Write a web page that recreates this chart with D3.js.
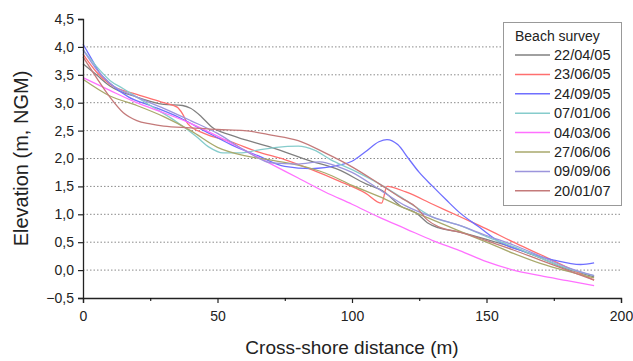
<!DOCTYPE html>
<html><head><meta charset="utf-8">
<script src="https://cdn.jsdelivr.net/npm/d3@7"></script>
<style>
body{margin:0;background:#fff;}
text{font-family:"Liberation Sans",Arial,sans-serif;fill:#222;}
</style></head>
<body><svg id="c" width="633" height="361"></svg>
<script>
const surveys = ["22/04/05","23/06/05","24/09/05","07/01/06","04/03/06","27/06/06","09/09/06","20/01/07"];
const colors = ["#808080","#ff6f6f","#6f6fff","#86cccc","#ff70ff","#a9a96c","#9c95dc","#c47a7a"];
const yTicks = [-0.5,0,0.5,1,1.5,2,2.5,3,3.5,4,4.5];
const xTicks = [0,50,100,150,200];
const xMinor = [25,75,125,175];

const s22_04_05 = [[0,3.7],[5,3.5],[10,3.3],[20,3.1],[30,2.97],[37,2.95],[40,2.9],[44,2.75],[48,2.56],[55,2.42],[70,2.2],[85,1.95],[95,1.8],[105,1.55],[112,1.4],[118,1.15],[124,1.02],[128,0.85],[132,0.76],[140,0.68],[150,0.55],[160,0.4],[170,0.22],[180,0.02],[190,-0.12]];
const s23_06_05 = [[0,3.87],[5,3.55],[10,3.33],[20,3.15],[30,3.0],[35,2.92],[37,2.8],[39,2.62],[45,2.45],[55,2.3],[65,2.12],[75,1.98],[85,1.8],[95,1.6],[105,1.38],[111,1.2],[113,1.5],[120,1.4],[130,1.18],[140,0.96],[150,0.74],[160,0.5],[170,0.28],[180,0.05],[190,-0.18]];
const s24_09_05 = [[0,4.05],[3,3.8],[6,3.55],[10,3.35],[17,3.1],[25,2.95],[36,2.73],[45,2.5],[55,2.25],[65,2.05],[75,1.86],[85,1.82],[95,1.88],[100,1.95],[105,2.12],[110,2.3],[113,2.34],[117,2.25],[121,2.0],[125,1.75],[130,1.5],[135,1.26],[140,1.03],[147,0.78],[155,0.5],[165,0.32],[175,0.18],[185,0.1],[190,0.13]];
const s07_01_06 = [[0,3.95],[5,3.65],[10,3.4],[15,3.25],[25,2.95],[35,2.65],[42,2.4],[47,2.2],[52,2.1],[58,2.1],[65,2.15],[72,2.2],[80,2.22],[86,2.15],[92,1.98],[100,1.8],[110,1.55],[120,1.25],[130,0.95],[140,0.8],[150,0.6],[160,0.42],[170,0.22],[180,0.03],[190,-0.1]];
const s04_03_06 = [[0,3.45],[10,3.22],[20,3.0],[30,2.82],[40,2.63],[50,2.4],[60,2.15],[70,1.9],[80,1.65],[90,1.4],[100,1.18],[110,0.95],[120,0.74],[130,0.53],[140,0.35],[150,0.15],[160,0.0],[170,-0.1],[180,-0.19],[190,-0.28]];
const s27_06_06 = [[0,3.42],[10,3.12],[20,2.95],[30,2.75],[40,2.5],[50,2.2],[60,2.05],[70,1.97],[80,1.88],[90,1.74],[100,1.52],[110,1.32],[120,1.1],[130,0.9],[140,0.7],[150,0.5],[160,0.3],[170,0.12],[180,-0.02],[190,-0.14]];
const s09_09_06 = [[0,3.95],[5,3.6],[10,3.35],[20,3.1],[30,2.9],[40,2.68],[50,2.45],[60,2.15],[70,1.92],[80,1.9],[88,1.94],[95,1.85],[100,1.75],[110,1.45],[120,1.15],[130,0.95],[140,0.8],[150,0.62],[160,0.45],[170,0.25],[180,0.05],[190,-0.1]];
const s20_01_07 = [[0,3.82],[5,3.45],[10,3.1],[15,2.82],[20,2.68],[25,2.62],[30,2.58],[40,2.55],[50,2.52],[60,2.5],[70,2.42],[80,2.32],[90,2.1],[100,1.85],[110,1.55],[118,1.3],[124,1.12],[128,0.9],[132,0.78],[140,0.68],[150,0.53],[160,0.36],[170,0.18],[180,0.0],[190,-0.18]];
const seriesData = [s22_04_05,s23_06_05,s24_09_05,s07_01_06,s04_03_06,s27_06_06,s09_09_06,s20_01_07];

const svg = d3.select("#c");
const x = d3.scaleLinear().domain([0,200]).range([83,621]);
const y = d3.scaleLinear().domain([-0.5,4.5]).range([298,19]);

// gridlines
svg.append("g").selectAll("line").data(yTicks.filter(v=>v>=0 && v<=4)).join("line")
  .attr("x1",x(0)).attr("x2",x(200)).attr("y1",d=>y(d)).attr("y2",d=>y(d))
  .attr("stroke","#8a8a8a").attr("stroke-width",1).attr("stroke-dasharray","1.5,2");

// lines
const line = d3.line().x(d=>x(d[0])).y(d=>y(d[1])).curve(d3.curveMonotoneX);
svg.append("g").selectAll("path").data(seriesData).join("path")
  .attr("d",line).attr("fill","none").attr("stroke",(d,i)=>colors[i]).attr("stroke-width",1.3);

// axes
const yAxis = d3.axisLeft(y).tickValues(yTicks).tickSize(5).tickPadding(4)
  .tickFormat(d=>d3.format(".1f")(d).replace(".",","));
const gy = svg.append("g").attr("transform",`translate(${x(0)},0)`).call(yAxis);
const xAxis = d3.axisBottom(x).tickValues(xTicks).tickSize(5).tickPadding(8).tickFormat(d3.format("d"));
const gx = svg.append("g").attr("transform",`translate(0,${y(-0.5)})`).call(xAxis);
svg.append("g").attr("transform",`translate(0,${y(-0.5)})`)
  .call(d3.axisBottom(x).tickValues(xMinor).tickSize(3).tickFormat(""))
  .select(".domain").remove();
[gx,gy].forEach(g=>{
  g.select(".domain").attr("stroke","#222").attr("stroke-width",1.3);
  g.selectAll(".tick line").attr("stroke","#222").attr("stroke-width",1.2);
  g.selectAll("text").attr("font-size",14).attr("font-family","Liberation Sans, Arial, sans-serif").attr("fill","#222");
});

// titles
svg.append("text").attr("x",x(100)).attr("y",354).attr("text-anchor","middle")
  .attr("font-size",19).text("Cross-shore distance (m)");
svg.append("text").attr("transform",`translate(28,${y(2)}) rotate(-90)`).attr("text-anchor","middle")
  .attr("font-size",20).text("Elevation (m, NGM)");

// legend
const lg = svg.append("g");
lg.append("rect").attr("x",503.5).attr("y",22.5).attr("width",118).attr("height",183)
  .attr("fill","#fff").attr("stroke","#999").attr("stroke-width",1);
lg.append("text").attr("x",515).attr("y",41).attr("font-size",14).text("Beach survey");
surveys.forEach((s,i)=>{
  const cy = 55 + i*19.4;
  lg.append("line").attr("x1",515).attr("x2",550).attr("y1",cy).attr("y2",cy)
    .attr("stroke",colors[i]).attr("stroke-width",1.5);
  lg.append("text").attr("x",554).attr("y",cy+5).attr("font-size",14.5).text(s);
});
</script></body></html>
